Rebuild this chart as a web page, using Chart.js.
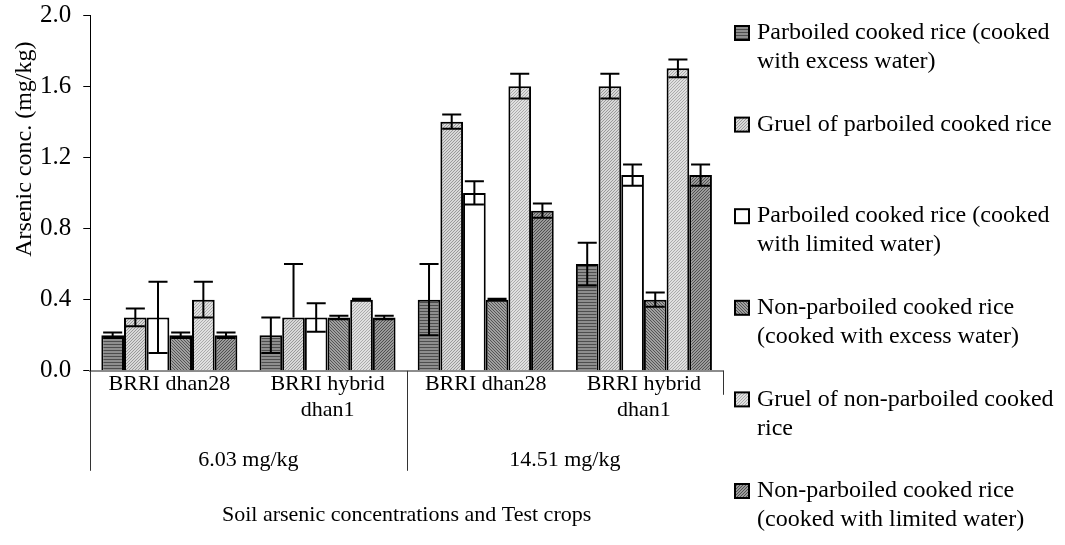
<!DOCTYPE html>
<html><head><meta charset="utf-8">
<script src="https://cdn.jsdelivr.net/npm/chart.js@4.4.1/dist/chart.umd.min.js"></script>
<style>html,body{margin:0;padding:0;background:#fff;}#wrap{width:1065px;height:545px;position:relative;}</style>
</head><body><div id="wrap"><canvas id="c"></canvas></div>
<script>
// ---- data ----
const categories = [['BRRI dhan28'], ['BRRI hybrid', 'dhan1'], ['BRRI dhan28'], ['BRRI hybrid', 'dhan1']];
const soilGroups = ['6.03 mg/kg', '14.51 mg/kg'];
const yTicks = [0, 0.4, 0.8, 1.2, 1.6, 2.0];
const yTitle = 'Arsenic conc. (mg/kg)';
const xTitle = 'Soil arsenic concentrations and Test crops';
const seriesNames = [
  'Parboiled cooked rice (cooked with excess water)',
  'Gruel of parboiled cooked rice',
  'Parboiled cooked rice (cooked with limited water)',
  'Non-parboiled cooked rice (cooked with excess water)',
  'Gruel of non-parboiled cooked rice',
  'Non-parboiled cooked rice (cooked with limited water)'
];
const legendLines = [
  ['Parboiled cooked rice (cooked', 'with excess water)'],
  ['Gruel of parboiled cooked rice'],
  ['Parboiled cooked rice (cooked', 'with limited water)'],
  ['Non-parboiled cooked rice', '(cooked with excess water)'],
  ['Gruel of non-parboiled cooked', 'rice'],
  ['Non-parboiled cooked rice', '(cooked with limited water)']
];
const parExcess      = [0.2, 0.2, 0.4, 0.6];
const parExcessUp    = [0.015, 0.1, 0.2, 0.12];
const parExcessDn    = [0.015, 0.1, 0.2, 0.12];
const gruelPar       = [0.3, 0.3, 1.4, 1.6];
const gruelParUp     = [0.05, 0.3, 0.04, 0.07];
const gruelParDn     = [0.05, 0, 0.04, 0.07];
const parLimited     = [0.3, 0.3, 1.0, 1.1];
const parLimitedUp   = [0.2, 0.08, 0.065, 0.06];
const parLimitedDn   = [0.2, 0.08, 0.065, 0.06];
const nonParExcess   = [0.2, 0.3, 0.4, 0.4];
const nonParExcessUp = [0.015, 0.01, 0.005, 0.04];
const nonParExcessDn = [0.015, 0.01, 0.005, 0.04];
const gruelNonPar    = [0.4, 0.4, 1.6, 1.7];
const gruelNonParUp  = [0.1, 0.005, 0.07, 0.05];
const gruelNonParDn  = [0.1, 0.005, 0.07, 0.05];
const nonParLimited  = [0.2, 0.3, 0.9, 1.1];
const nonParLimitedUp= [0.015, 0.01, 0.04, 0.06];
const nonParLimitedDn= [0.015, 0.01, 0.04, 0.06];

// ---- styles ----
const FONT = '"Liberation Serif", "Times New Roman", serif';
function makePattern(w, h, fn) {
  const cv = document.createElement('canvas'); cv.width = w; cv.height = h;
  const cx = cv.getContext('2d');
  for (let y = 0; y < h; y++) for (let x = 0; x < w; x++) { cx.fillStyle = fn(x, y); cx.fillRect(x, y, 1, 1); }
  return cx.createPattern(cv, 'repeat');
}
const pats = [
  makePattern(3, 3, (x, y) => (y % 3 === 2 ? '#4d4d4d' : '#8e8e8e')),
  makePattern(3, 3, (x, y) => ((x + y) % 3 === 0 ? '#999999' : '#d8d8d8')),
  '#ffffff',
  makePattern(3, 3, (x, y) => ((x - y + 3) % 3 === 0 ? '#555555' : '#a0a0a0')),
  makePattern(3, 3, (x, y) => ((x + y) % 3 === 0 ? '#aaaaaa' : '#e0e0e0')),
  makePattern(3, 3, (x, y) => ((x + y) % 3 === 0 ? '#505050' : '#9a9a9a'))
];
const values = [parExcess, gruelPar, parLimited, nonParExcess, gruelNonPar, nonParLimited];
const ups = [parExcessUp, gruelParUp, parLimitedUp, nonParExcessUp, gruelNonParUp, nonParLimitedUp];
const dns = [parExcessDn, gruelParDn, parLimitedDn, nonParExcessDn, gruelNonParDn, nonParLimitedDn];

const datasets = values.map((v, i) => ({
  label: seriesNames[i], data: v, errUp: ups[i], errDn: dns[i],
  backgroundColor: pats[i], borderColor: '#000', borderWidth: 2,
  categoryPercentage: 0.86, barPercentage: 1.0
}));

const errorBars = {
  id: 'errorBars',
  afterDatasetsDraw(chart) {
    const ctx = chart.ctx, ys = chart.scales.y;
    ctx.save(); ctx.strokeStyle = '#000'; ctx.lineWidth = 2;
    chart.data.datasets.forEach((ds, i) => {
      chart.getDatasetMeta(i).data.forEach((el, j) => {
        const v = ds.data[j], half = el.width * 0.42;
        const yt = ys.getPixelForValue(v + ds.errUp[j]);
        const yb = ys.getPixelForValue(v - ds.errDn[j]);
        ctx.beginPath();
        ctx.moveTo(el.x, yt); ctx.lineTo(el.x, ds.errDn[j] > 0 ? yb : ys.getPixelForValue(v));
        ctx.moveTo(el.x - half, yt); ctx.lineTo(el.x + half, yt);
        if (ds.errDn[j] > 0) { ctx.moveTo(el.x - half, yb); ctx.lineTo(el.x + half, yb); }
        ctx.stroke();
      });
    });
    ctx.restore();
  }
};

const groupAxis = {
  id: 'groupAxis',
  afterDraw(chart) {
    const ctx = chart.ctx, xs = chart.scales.x, a = chart.chartArea;
    const bounds = [a.left];
    let idx = 0;
    const per = categories.length / soilGroups.length;
    for (let g = 1; g < soilGroups.length; g++) {
      idx += per;
      bounds.push((xs.getPixelForValue(idx - 1) + xs.getPixelForValue(idx)) / 2);
    }
    bounds.push(a.right);
    ctx.save();
    ctx.strokeStyle = '#333'; ctx.lineWidth = 1;
    for (let k = 0; k < bounds.length; k++) {
      const x = Math.round(bounds[k]) + 0.5;
      const len = (k === bounds.length - 1) ? 24 : 100;
      ctx.beginPath(); ctx.moveTo(x, a.bottom); ctx.lineTo(x, a.bottom + len); ctx.stroke();
    }
    ctx.fillStyle = '#000'; ctx.font = '22px ' + FONT;
    ctx.textAlign = 'center'; ctx.textBaseline = 'middle';
    soilGroups.forEach((g, k) => ctx.fillText(g, (bounds[k] + bounds[k + 1]) / 2, a.bottom + 89));
    // y axis title (placed like the original, above the axis midpoint)
    ctx.save();
    ctx.translate(25, a.top + (a.bottom - a.top) * 0.377);
    ctx.rotate(-Math.PI / 2);
    ctx.font = '24px ' + FONT;
    ctx.fillText(yTitle, 0, 0);
    ctx.restore();
    ctx.restore();
  }
};

const sideLegend = {
  id: 'sideLegend',
  afterDraw(chart) {
    const ctx = chart.ctx;
    const x0 = chart.chartArea.right + 12, top = 33, step = 91.6, lh = 29;
    ctx.save();
    ctx.font = '24px ' + FONT; ctx.textBaseline = 'middle'; ctx.textAlign = 'left'; ctx.fillStyle = '#000';
    legendLines.forEach((lines, i) => {
      const y = top + i * step;
      ctx.fillStyle = pats[i]; ctx.fillRect(x0, y - 7, 14, 14);
      ctx.strokeStyle = '#000'; ctx.lineWidth = 2; ctx.strokeRect(x0, y - 7, 14, 14);
      ctx.fillStyle = '#000';
      lines.forEach((t, l) => ctx.fillText(t, x0 + 22, y + l * lh));
    });
    ctx.restore();
  }
};

new Chart(document.getElementById('c'), {
  type: 'bar',
  data: { labels: categories, datasets },
  plugins: [errorBars, groupAxis, sideLegend],
  options: {
    responsive: true, maintainAspectRatio: false, animation: false,
    layout: { padding: { top: 1, right: 342, bottom: 17, left: 28 } },
    plugins: { legend: { display: false }, tooltip: { enabled: false } },
    scales: {
      x: {
        grid: { display: true, drawOnChartArea: false, drawTicks: false },
        border: { display: true, color: '#8c8c8c', width: 2 },
        ticks: { color: '#000', font: { family: FONT, size: 22, lineHeight: 1.2 }, padding: 0, maxRotation: 0, autoSkip: false },
        title: { display: true, text: xTitle, color: '#000', font: { family: FONT, size: 22, lineHeight: 1.2 }, padding: { top: 78, bottom: 0 } }
      },
      y: {
        min: 0, max: 2.0,
        afterBuildTicks(s) { s.ticks = yTicks.map(v => ({ value: v })); },
        afterFit(s) { s.paddingTop = 15; s.paddingBottom = 15; },
        grid: { display: true, drawOnChartArea: false, drawTicks: true, tickLength: 7, color: '#000' },
        border: { display: true, color: '#000', width: 1 },
        ticks: { color: '#000', font: { family: FONT, size: 25 }, padding: 12, callback: v => Number(v).toFixed(1) },
        title: { display: false }
      }
    }
  }
});
</script></body></html>
